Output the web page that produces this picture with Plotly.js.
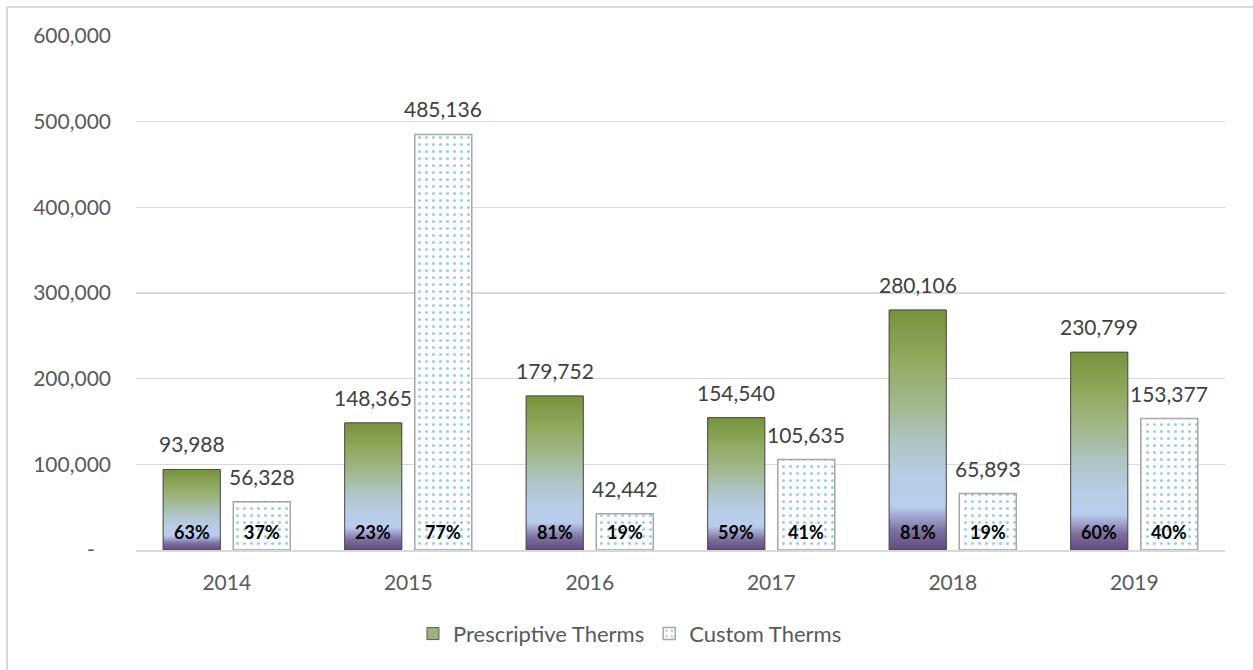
<!DOCTYPE html>
<html>
<head>
<meta charset="utf-8">
<script src="https://cdn.plot.ly/plotly-3.0.1.min.js"></script>
<style>
  html, body { margin: 0; padding: 0; background: #ffffff; }
  #chart { width: 1253px; height: 670px; }
</style>
</head>
<body>
<div id="chart"></div>
<script>
// ---- data ----
const years = ['2014', '2015', '2016', '2017', '2018', '2019'];
const prescriptiveTherms = [93988, 148365, 179752, 154540, 280106, 230799];
const customTherms = [56328, 485136, 42442, 105635, 65893, 153377];
const prescriptivePct = ['63%', '23%', '81%', '59%', '81%', '60%'];
const customPct = ['37%', '77%', '19%', '41%', '19%', '40%'];
const yTickVals = [0, 100000, 200000, 300000, 400000, 500000, 600000];
const yTickText = ['-\u00a0\u00a0\u00a0', '100,000', '200,000', '300,000', '400,000', '500,000', '600,000'];
const seriesNames = ['Prescriptive Therms', 'Custom Therms'];

// ---- styling ----
const FONT = 'Lato, "Open Sans", sans-serif';
const BAR_W = 0.314;
const OFF_P = -0.35;
const OFF_C = 0.036;
const gradScale = [
  [0, '#5e4c7e'], [0.08, '#7d6f9f'], [0.14, '#a3a6d2'], [0.18, '#b9cdee'],
  [0.3, '#b8cde6'], [0.45, '#aec4c4'], [0.6, '#a3b98f'], [0.8, '#8fa95e'], [1, '#76923c']
];

const idx = years.map((_, i) => i);
const fmt = v => v.toLocaleString('en-US');

const traces = [
  {
    type: 'bar', name: seriesNames[0], x: idx, y: prescriptiveTherms,
    width: BAR_W, offset: OFF_P,
    marker: { color: '#9db27e', line: { color: '#595959', width: 1 } },
    hoverinfo: 'y+name'
  },
  {
    type: 'bar', name: seriesNames[1], x: idx, y: customTherms,
    width: BAR_W, offset: OFF_C,
    marker: {
      color: '#ffffff',
      line: { color: '#a6a6a6', width: 1.5 },
      pattern: { shape: '.', fgcolor: '#3a9bbd', bgcolor: '#ffffff', size: 7, solidity: 0.15, fillmode: 'overlay' }
    },
    hoverinfo: 'y+name'
  }
];

// gradient overlay for each prescriptive bar, built from the same data
prescriptiveTherms.forEach((v, i) => {
  const x0 = i + OFF_P, x1 = x0 + BAR_W;
  traces.push({
    type: 'scatter', mode: 'lines', showlegend: false, hoverinfo: 'skip',
    x: [x0, x0, x1, x1, x0], y: [0, v, v, 0, 0],
    fill: 'toself',
    fillgradient: { type: 'vertical', colorscale: gradScale },
    line: { color: 'rgba(70,70,70,0.75)', width: 1 }
  });
});

const annotations = [];
idx.forEach(i => {
  const cp = i + OFF_P + BAR_W / 2;
  const cc = i + OFF_C + BAR_W / 2;
  annotations.push({ x: cp, y: prescriptiveTherms[i], xref: 'x', yref: 'y', text: fmt(prescriptiveTherms[i]),
    showarrow: false, yanchor: 'bottom', yshift: 11, font: { family: FONT, size: 21, color: '#404040' } });
  annotations.push({ x: cc, y: customTherms[i], xref: 'x', yref: 'y', text: fmt(customTherms[i]),
    showarrow: false, yanchor: 'bottom', yshift: 11, font: { family: FONT, size: 21, color: '#404040' } });
  annotations.push({ x: cp, y: 0, xref: 'x', yref: 'y', text: '<b>' + prescriptivePct[i] + '</b>',
    showarrow: false, yanchor: 'bottom', yshift: 5, font: { family: FONT, size: 18, color: '#000000' } });
  annotations.push({ x: cc, y: 0, xref: 'x', yref: 'y', text: '<b>' + customPct[i] + '</b>',
    showarrow: false, yanchor: 'bottom', yshift: 5, font: { family: FONT, size: 18, color: '#000000' } });
});

const layout = {
  width: 1253, height: 670,
  margin: { l: 136, r: 28, t: 36, b: 120 },
  paper_bgcolor: '#ffffff', plot_bgcolor: '#ffffff',
  barmode: 'overlay',
  showlegend: true,
  font: { family: FONT, size: 21, color: '#595959' },
  xaxis: {
    type: 'linear', range: [-0.5, 5.5],
    tickmode: 'array', tickvals: idx, ticktext: years,
    showgrid: false, zeroline: false,
    showline: true, linecolor: '#d9d9d9', linewidth: 2,
    ticks: '', ticklabelstandoff: 13,
    tickfont: { family: FONT, size: 21, color: '#595959' },
    fixedrange: true
  },
  yaxis: {
    range: [0, 600000],
    tickmode: 'array', tickvals: yTickVals, ticktext: yTickText,
    showgrid: true, gridcolor: '#d9d9d9', gridwidth: 1.5,
    zeroline: false, showline: false, ticks: '', ticklabelstandoff: 24,
    tickfont: { family: FONT, size: 21, color: '#595959' },
    fixedrange: true
  },
  legend: {
    orientation: 'h', x: 0.4536, xanchor: 'center', y: -0.163, yanchor: 'middle',
    font: { family: FONT, size: 22, color: '#595959' },
    traceorder: 'normal', itemclick: false
  },
  annotations: annotations,
  shapes: [{
    type: 'rect', xref: 'paper', yref: 'paper',
    x0: -0.1185, x1: 1.3, y0: -0.5, y1: 1.0564,
    line: { color: '#d9d9d9', width: 2 }, fillcolor: 'rgba(0,0,0,0)', layer: 'below'
  }]
};

Plotly.newPlot('chart', traces, layout, { displayModeBar: false, staticPlot: true });
</script>
</body>
</html>
